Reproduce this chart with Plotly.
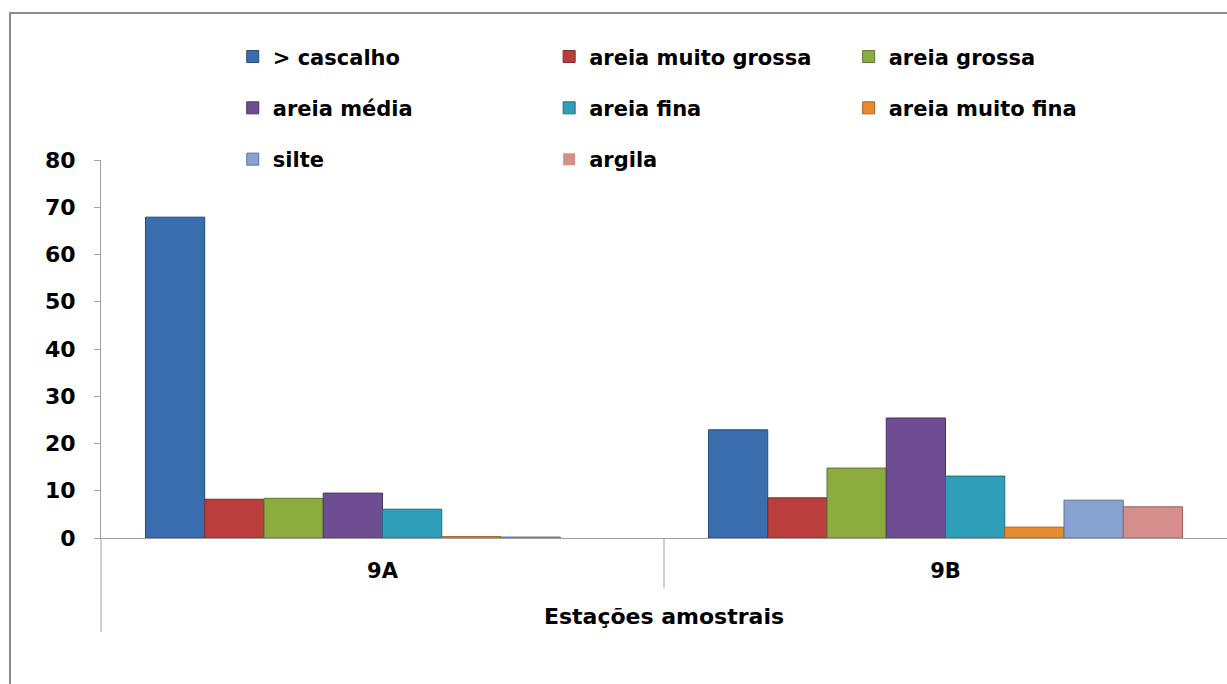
import plotly.graph_objects as go

# Sediment grain-size fractions (%) at each sampling station
stations = ["9A", "9B"]
series_names = [
    "> cascalho", "areia muito grossa", "areia grossa",
    "areia média", "areia fina", "areia muito fina",
    "silte", "argila",
]
cascalho = [67.9, 22.9]
areia_muito_grossa = [8.2, 8.5]
areia_grossa = [8.4, 14.8]
areia_media = [9.5, 25.4]
areia_fina = [6.1, 13.1]
areia_muito_fina = [0.3, 2.3]
silte = [0.2, 8.0]
argila = [0.0, 6.6]
y_ticks = [0, 10, 20, 30, 40, 50, 60, 70, 80]

series_values = [cascalho, areia_muito_grossa, areia_grossa, areia_media,
                 areia_fina, areia_muito_fina, silte, argila]
fill_colors = ["#3A6DAD", "#BA3F3C", "#8CAC40", "#6E4D92",
               "#2F9FB9", "#E58C2C", "#88A3D2", "#D58E8C"]
edge_colors = ["#254A78", "#7E2A28", "#5E7630", "#4A3364",
               "#1F6C7E", "#A8621E", "#5E7296", "#99605E"]
# legend column each series belongs to (three columns, filled row by row)
legend_ids = ["legend", "legend2", "legend3",
              "legend", "legend2", "legend3",
              "legend", "legend2"]

FONT = "DejaVu Sans"
BOLD_BLACK = dict(family=FONT, color="#000000", weight="bold")

fig = go.Figure()
for i, (name, vals) in enumerate(zip(series_names, series_values)):
    fig.add_trace(go.Bar(
        x=stations, y=vals, name=name,
        marker=dict(
            color=fill_colors[i],
            # no outline on empty bars so nothing is drawn over the axis
            line=dict(color=edge_colors[i], width=[1 if v > 0 else 0 for v in vals]),
        ),
        legend=legend_ids[i], legendgroup=name,
    ))

legend_common = dict(
    orientation="v", yanchor="top", xanchor="left", y=1.327,
    font=dict(size=21, **BOLD_BLACK),
    bgcolor="rgba(0,0,0,0)", tracegroupgap=21, itemclick=False,
)

fig.update_layout(
    width=1227, height=684,
    margin=dict(l=101, r=0, t=160, b=146),
    paper_bgcolor="white", plot_bgcolor="white",
    barmode="group", bargap=0.158, bargroupgap=0,
    showlegend=True,
    legend=dict(x=0.117, **legend_common),
    legend2=dict(x=0.398, **legend_common),
    legend3=dict(x=0.664, **legend_common),
    font=dict(family=FONT, color="#000000"),
    xaxis=dict(
        range=[-0.5, 1.5], showgrid=False, showline=True,
        linecolor="#A0A0A0", linewidth=1, ticks="",
        tickfont=dict(size=21, **BOLD_BLACK),
        ticklabelstandoff=14,
        title=dict(text="Estações amostrais", standoff=26,
                   font=dict(size=22, **BOLD_BLACK)),
    ),
    yaxis=dict(
        range=[0, 80], tickvals=y_ticks, showgrid=False, showline=True,
        linecolor="#A0A0A0", linewidth=1, ticks="outside", ticklen=6,
        tickcolor="#A0A0A0", zeroline=False,
        tickfont=dict(size=22, **BOLD_BLACK),
        ticklabelstandoff=14,
    ),
    shapes=[
        # outer chart frame
        dict(type="rect", xref="paper", yref="paper",
             x0=-0.0808, x1=1.05, y0=-0.6, y1=1.389,
             line=dict(color="#8C8C8C", width=2), layer="below"),
        # value axis continued down past the category labels
        dict(type="line", xref="paper", yref="paper",
             x0=0, x1=0, y0=0, y1=-0.249,
             line=dict(color="#A0A0A0", width=1)),
        # divider between the two station categories
        dict(type="line", xref="x", yref="paper",
             x0=0.5, x1=0.5, y0=0, y1=-0.132,
             line=dict(color="#A0A0A0", width=1)),
    ],
)

fig.write_html("out.html")
